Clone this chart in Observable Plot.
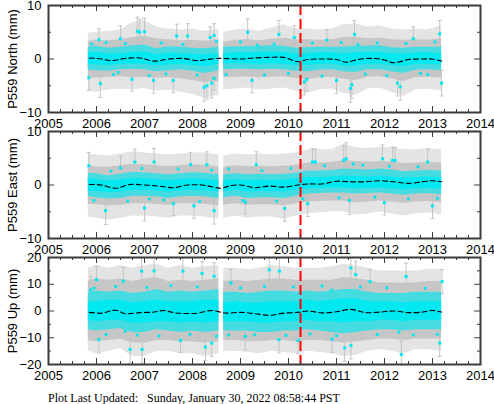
<!DOCTYPE html>
<html>
<head>
<meta charset="utf-8">
<script src="https://cdn.jsdelivr.net/npm/d3@7"></script>
<script src="https://cdn.jsdelivr.net/npm/@observablehq/plot@0.6"></script>
<style>
  body { margin: 0; background: #fff; width: 494px; height: 404px; overflow: hidden; }
  #chart { position: relative; width: 494px; height: 404px; }
  #chart svg { display: block; position: absolute; left: 0; overflow: visible; background: transparent !important; }
  #caption { position: absolute; left: 48px; top: 391px; font-family: "Liberation Serif", "Times New Roman", serif;
             font-size: 12px; line-height: 14px; color: #000; white-space: pre; }
</style>
</head>
<body>
<div id="chart"><div id="caption">Plot Last Updated:   Sunday, January 30, 2022 08:58:44 PST</div></div>
<script>
// ---------- tick labels ----------
const yearTicks = [2005, 2006, 2007, 2008, 2009, 2010, 2011, 2012, 2013, 2014];
const eventYear = 2010.25; // red dashed marker

// ---------- envelope rows: [t, outerLo, outerHi, grayLo, grayHi, cyanMidLo, cyanMidHi, cyanCoreLo, cyanCoreHi] ----------
const northBands = [
  [2005.83, -6.0, 4.8, -3.6, 3.3, -2.1, 2.2, -1.0, 1.1],
  [2006.0, -6.2, 5.0, -3.6, 3.5, -2.2, 2.4, -1.1, 1.2],
  [2006.25, -5.8, 5.2, -3.4, 3.4, -2.3, 2.0, -1.2, 0.9],
  [2006.5, -5.6, 5.4, -3.3, 3.6, -2.0, 2.2, -1.0, 1.0],
  [2006.75, -5.8, 6.8, -3.5, 4.0, -1.9, 2.5, -0.9, 1.2],
  [2007.0, -5.5, 7.2, -3.4, 4.2, -2.0, 2.6, -1.0, 1.3],
  [2007.25, -6.0, 6.0, -3.6, 3.8, -2.4, 1.9, -1.3, 0.8],
  [2007.5, -5.8, 5.6, -3.5, 3.6, -2.2, 2.3, -1.1, 1.1],
  [2007.75, -6.2, 5.4, -3.7, 3.4, -2.0, 2.2, -1.0, 1.0],
  [2008.0, -6.6, 5.6, -4.0, 3.5, -2.3, 2.0, -1.2, 0.9],
  [2008.25, -7.4, 5.2, -4.4, 3.3, -2.7, 1.9, -1.4, 0.8],
  [2008.55, -6.8, 5.6, -4.2, 3.6, -2.2, 2.2, -1.0, 1.0],
  [2008.65, -5.8, 5.0, -3.5, 3.2, -2.0, 2.2, -1.0, 1.0],
  [2008.9, -5.6, 5.4, -3.4, 3.5, -1.9, 2.3, -0.9, 1.1],
  [2009.15, -5.4, 5.6, -3.3, 3.6, -1.9, 2.3, -0.9, 1.1],
  [2009.4, -5.8, 5.2, -3.5, 3.4, -2.0, 2.4, -1.0, 1.2],
  [2009.65, -5.6, 5.8, -3.4, 3.7, -1.9, 2.5, -0.9, 1.3],
  [2009.9, -5.4, 6.4, -3.3, 3.9, -2.0, 2.4, -1.0, 1.2],
  [2010.15, -6.0, 5.6, -3.6, 3.6, -2.3, 2.0, -1.2, 0.9],
  [2010.4, -6.4, 5.6, -3.9, 3.6, -2.4, 2.1, -1.2, 1.0],
  [2010.65, -5.8, 5.4, -3.5, 3.5, -2.1, 2.2, -1.0, 1.1],
  [2010.9, -5.6, 5.6, -3.4, 3.6, -2.0, 2.2, -1.0, 1.1],
  [2011.15, -6.4, 6.4, -3.8, 4.0, -2.4, 2.2, -1.3, 1.0],
  [2011.4, -6.8, 6.6, -4.0, 4.0, -2.5, 2.4, -1.3, 1.1],
  [2011.65, -5.6, 6.0, -3.4, 3.8, -2.0, 2.4, -1.0, 1.2],
  [2011.9, -5.4, 6.2, -3.3, 3.9, -2.0, 2.5, -1.0, 1.2],
  [2012.15, -6.2, 5.6, -3.7, 3.6, -2.4, 2.1, -1.2, 1.0],
  [2012.4, -7.0, 5.4, -4.2, 3.5, -2.7, 2.0, -1.4, 0.9],
  [2012.65, -5.8, 5.6, -3.5, 3.6, -2.1, 2.2, -1.0, 1.1],
  [2012.9, -5.6, 5.4, -3.4, 3.5, -2.0, 2.2, -1.0, 1.1],
  [2013.19, -6.0, 6.2, -3.6, 3.8, -2.2, 2.2, -1.1, 1.0]
];
const eastBands = [
  [2005.83, -6.0, 5.8, -3.6, 3.6, -2.2, 2.2, -1.1, 1.1],
  [2006.0, -6.2, 5.6, -3.7, 3.4, -2.4, 2.1, -1.2, 1.0],
  [2006.25, -6.6, 5.4, -3.9, 3.3, -2.6, 1.7, -1.4, 0.7],
  [2006.5, -6.2, 5.8, -3.8, 3.6, -2.5, 2.0, -1.3, 0.9],
  [2006.75, -5.8, 6.2, -3.5, 3.9, -2.1, 2.4, -1.0, 1.2],
  [2007.0, -5.8, 6.0, -3.5, 3.8, -2.1, 2.3, -1.0, 1.1],
  [2007.25, -6.0, 5.8, -3.6, 3.6, -2.2, 2.1, -1.1, 1.0],
  [2007.5, -6.2, 5.6, -3.8, 3.4, -2.5, 1.9, -1.3, 0.8],
  [2007.75, -5.8, 5.8, -3.5, 3.6, -2.2, 2.1, -1.1, 1.0],
  [2008.0, -5.8, 6.0, -3.5, 3.8, -2.1, 2.3, -1.0, 1.1],
  [2008.25, -6.0, 6.0, -3.6, 3.7, -2.2, 2.2, -1.1, 1.0],
  [2008.55, -6.4, 5.6, -3.9, 3.4, -2.5, 1.9, -1.3, 0.8],
  [2008.65, -6.2, 5.4, -3.8, 3.3, -2.4, 1.9, -1.2, 0.8],
  [2008.9, -5.8, 5.8, -3.5, 3.6, -2.1, 2.1, -1.0, 1.0],
  [2009.15, -6.2, 5.6, -3.8, 3.4, -2.5, 1.9, -1.3, 0.8],
  [2009.4, -6.0, 5.8, -3.7, 3.5, -2.4, 2.0, -1.2, 0.9],
  [2009.65, -6.0, 5.6, -3.7, 3.4, -2.4, 1.9, -1.2, 0.8],
  [2009.9, -6.4, 5.8, -3.9, 3.5, -2.5, 2.0, -1.3, 0.9],
  [2010.15, -5.8, 6.0, -3.5, 3.7, -2.1, 2.2, -1.0, 1.1],
  [2010.4, -5.4, 6.6, -3.2, 4.1, -1.7, 2.6, -0.7, 1.4],
  [2010.65, -5.2, 6.6, -3.1, 4.1, -1.6, 2.6, -0.6, 1.4],
  [2010.9, -5.0, 6.6, -3.0, 4.2, -1.5, 2.7, -0.5, 1.5],
  [2011.15, -5.0, 7.6, -3.0, 4.6, -1.5, 3.0, -0.5, 1.7],
  [2011.4, -5.6, 7.0, -3.3, 4.4, -1.7, 2.9, -0.7, 1.6],
  [2011.65, -5.4, 6.8, -3.2, 4.3, -1.6, 2.8, -0.6, 1.5],
  [2011.9, -5.0, 7.0, -3.0, 4.4, -1.5, 3.0, -0.5, 1.7],
  [2012.15, -5.4, 7.0, -3.2, 4.3, -1.7, 2.8, -0.7, 1.5],
  [2012.4, -5.8, 6.6, -3.4, 4.0, -1.9, 2.5, -0.9, 1.3],
  [2012.65, -5.4, 6.6, -3.2, 4.1, -1.7, 2.6, -0.7, 1.4],
  [2012.9, -5.2, 6.8, -3.1, 4.2, -1.6, 2.7, -0.6, 1.5],
  [2013.19, -5.6, 6.6, -3.3, 4.1, -1.8, 2.6, -0.8, 1.4]
];
const upBands = [
  [2005.83, -15, 16, -11, 11.5, -7, 7, -3.5, 3.5],
  [2006.0, -16, 17, -11.5, 12, -7.5, 7.5, -4, 3.5],
  [2006.25, -15, 16, -11, 11.5, -7, 7, -3.5, 4],
  [2006.5, -14, 17, -10.5, 12, -6.5, 7.5, -3.5, 4],
  [2006.75, -17, 16, -12, 11, -8, 6.5, -4.5, 3],
  [2007.0, -17, 17, -12, 12, -8, 7, -4.5, 3.5],
  [2007.25, -15, 17.5, -11, 12.5, -7, 8, -4, 4],
  [2007.5, -15, 16, -11, 11, -7.5, 7, -4, 3.5],
  [2007.75, -16, 17, -11.5, 11.5, -8, 7.5, -4.5, 3.5],
  [2008.0, -16, 16, -11.5, 11, -7.5, 7, -4, 3.5],
  [2008.25, -17, 16.5, -12, 11.5, -8, 7.5, -4.5, 4],
  [2008.55, -16, 17, -11.5, 12, -7.5, 8, -4, 4],
  [2008.65, -15, 16, -11, 11, -7.5, 7, -4, 3],
  [2008.9, -15, 16, -11, 11.5, -7.5, 7, -4, 3.5],
  [2009.15, -15.5, 15.5, -11.5, 11, -7.5, 6.5, -4, 3],
  [2009.4, -16, 16, -11.5, 11.5, -8, 7, -4.5, 3],
  [2009.65, -15, 17, -11, 12, -8, 7.5, -4.5, 3.5],
  [2009.9, -15.5, 16.5, -11, 12, -7.5, 7.5, -4, 3.5],
  [2010.15, -16, 16, -11.5, 11.5, -7.5, 7, -4, 3.5],
  [2010.4, -15, 16, -11, 11.5, -7, 7.5, -3.5, 4],
  [2010.65, -15.5, 16, -11, 11.5, -7.5, 7, -4, 3.5],
  [2010.9, -16, 16.5, -11.5, 11.5, -8, 7.5, -4, 4],
  [2011.15, -17, 17.5, -12, 12.5, -8.5, 8, -4.5, 4.5],
  [2011.4, -16.5, 17, -11.5, 12, -8, 8, -4, 4.5],
  [2011.65, -15, 16, -11, 11.5, -7.5, 7, -4, 3.5],
  [2011.9, -14.5, 15, -10.5, 10.5, -7, 6.5, -3.5, 3.5],
  [2012.15, -15, 15, -10.5, 10.5, -7, 6.5, -3.5, 3.5],
  [2012.4, -16, 15, -11, 10.5, -7.5, 6.5, -4, 3],
  [2012.65, -14.5, 15, -10.5, 10.5, -7, 7, -3.5, 3.5],
  [2012.9, -14.5, 15.5, -10.5, 11, -7, 7, -3.5, 3.5],
  [2013.19, -15, 15.5, -10.5, 11, -7, 7, -3.5, 3.5]
];

// ---------- model (dashed black) : [t, mm] ----------
const northTrend = [[2005.85,0.2],[2006.1,0.0],[2006.3,-0.3],[2006.6,0.1],[2006.9,0.2],[2007.2,-0.4],[2007.5,0.0],[2007.8,0.1],[2008.1,-0.3],[2008.3,-0.1],[2008.5,0.1],[2008.65,0.1],[2009.0,0.0],[2009.3,0.2],[2009.6,0.3],[2009.9,0.3],[2010.2,-0.5],[2010.4,-0.1],[2010.7,0.0],[2011.0,-0.1],[2011.2,-0.6],[2011.5,0.0],[2011.8,0.1],[2012.0,-0.2],[2012.2,-0.7],[2012.5,-0.1],[2012.8,0.0],[2013.0,0.0],[2013.19,-0.4]];
const eastTrend = [[2005.85,0.1],[2006.1,0.0],[2006.4,-0.6],[2006.7,0.1],[2007.0,0.0],[2007.3,-0.2],[2007.6,-0.5],[2007.9,0.0],[2008.2,0.0],[2008.45,-0.4],[2008.6,-0.6],[2008.75,-0.2],[2009.0,0.0],[2009.3,-0.5],[2009.6,-0.2],[2009.9,-0.4],[2010.2,0.0],[2010.4,0.2],[2010.7,0.2],[2011.0,0.7],[2011.3,0.6],[2011.6,0.6],[2011.9,0.8],[2012.2,0.6],[2012.5,0.3],[2012.8,0.6],[2013.0,0.8],[2013.19,0.6]];
const upTrend = [[2005.85,-0.5],[2006.1,-0.8],[2006.4,0.3],[2006.6,-1.0],[2006.9,-0.6],[2007.2,-0.4],[2007.4,0.2],[2007.6,-0.6],[2007.8,-0.9],[2008.1,-0.8],[2008.4,0.2],[2008.6,-0.5],[2008.7,-0.8],[2009.0,-0.5],[2009.3,-1.0],[2009.6,-1.6],[2009.9,-0.8],[2010.2,-0.5],[2010.4,0.0],[2010.7,-0.7],[2011.0,-0.3],[2011.3,0.6],[2011.6,-0.6],[2011.9,-0.4],[2012.2,0.0],[2012.5,-0.6],[2012.8,-0.4],[2013.0,0.2],[2013.19,-0.4]];

// ---------- isolated daily solutions visible outside the dense band: [t, mm, sigma] ----------
const northPoints = [[2006.85,5.2,2.6],[2006.9,5.0,2.4],[2007.0,5.1,2.5],[2007.67,4.3,2.2],[2007.9,4.3,2.3],[2008.37,4.0,2.0],[2008.45,4.4,2.2],[2006.05,3.6,2.0],[2006.5,3.8,2.4],
  [2005.84,-3.5,2.4],[2006.08,-4.6,2.6],[2006.74,-3.8,2.2],[2007.19,-4.0,2.4],[2007.6,-4.0,2.3],[2008.24,-5.3,2.6],[2008.3,-5.0,2.5],[2008.4,-4.5,2.8],[2008.45,-3.6,2.2],
  [2009.15,5.0,2.5],[2009.8,4.6,2.6],[2010.12,4.0,2.2],[2010.33,-4.3,2.4],[2010.38,-3.8,2.2],[2011.375,4.6,2.6],[2011.0,-4.0,2.4],[2011.29,-5.5,2.6],[2011.32,-4.8,2.5],[2012.27,-4.5,2.4],[2012.33,-5.2,2.5],[2013.15,4.7,2.5],[2013.19,-4.5,2.4],[2009.24,-4.0,2.3],[2012.6,3.8,2.2],[2010.8,3.5,2.0]];
const eastPoints = [[2005.84,3.6,2.5],[2006.8,4.3,2.4],[2007.2,4.3,2.5],[2007.96,3.8,2.3],[2008.3,3.8,2.4],[2006.19,-4.8,2.6],[2007.0,-4.3,2.4],[2008.03,-3.9,2.3],[2008.45,-4.8,2.5],[2006.5,3.2,2.2],[2007.6,-3.5,2.2],
  [2009.33,3.8,2.4],[2010.5,4.3,2.5],[2010.56,4.3,2.4],[2011.15,4.6,2.8],[2011.2,4.9,3.0],[2011.96,4.9,2.6],[2012.17,4.6,2.5],[2012.22,4.6,2.4],[2012.9,4.3,2.4],[2009.92,-4.4,2.4],[2011.27,-2.9,2.6],[2012.0,-3.3,2.3],[2013.0,-3.9,2.4],[2009.1,-3.2,2.2],[2010.4,-3.5,2.4]];
const upPoints = [[2005.88,7.9,5],[2006.0,11.7,5],[2006.56,11.2,5],[2006.94,14.9,5],[2007.2,15.0,5],[2007.8,14.9,5],[2008.2,14.0,4.5],[2008.45,13.0,5],[2006.05,-10.7,5],[2006.7,-14.4,5],[2006.95,-14.4,5],[2007.75,-11.0,4.5],[2008.27,-13.5,5],[2008.4,-12.0,5],
  [2009.6,15.4,5],[2009.81,14.9,5],[2011.3,16.1,5],[2011.4,13.6,5],[2011.7,11.0,4.5],[2012.45,12.9,5],[2013.2,11.0,4.5],[2011.17,-13.8,5],[2011.3,-12.9,5],[2012.35,-16.3,5],[2009.8,-10.7,5],[2010.2,-11.0,5],[2010.91,-10.5,5],[2013.15,-12.0,5],[2008.8,10.5,5],[2009.1,-9.5,5]];

// ---------- scattered daily solutions inside the gray band: [t, mm] ----------
const northScatter = [[2005.9,2.8],[2006.2,3.1],[2006.35,-2.9],[2006.6,2.9],[2007.1,-3.1],[2007.35,3.0],[2007.45,-2.8],[2007.8,2.7],[2008.1,-3.0],[2008.5,3.3],[2008.7,-2.9],[2009.0,3.2],[2009.5,-3.0],[2009.7,2.8],[2010.0,-2.7],[2010.5,3.0],[2010.7,-3.2],[2011.1,3.1],[2011.6,-2.8],[2011.85,3.0],[2012.05,-3.1],[2012.45,2.9],[2012.75,-2.7],[2013.05,3.2],[2006.45,-2.5],[2009.35,2.6],[2011.45,2.7],[2012.9,-2.9]];
const eastScatter = [[2005.95,-2.9],[2006.3,2.6],[2006.65,-3.0],[2006.95,3.1],[2007.4,-2.8],[2007.7,3.0],[2008.15,-3.1],[2008.4,2.8],[2008.75,3.0],[2009.05,-2.9],[2009.45,2.7],[2009.75,-3.0],[2010.05,3.1],[2010.3,-2.6],[2010.75,3.6],[2011.05,-2.4],[2011.55,3.7],[2011.8,-2.3],[2012.1,3.5],[2012.5,-2.6],[2012.7,3.4],[2013.1,-2.5],[2007.1,-2.6],[2011.35,3.9]];
const upScatter = [[2005.95,8.5],[2006.2,-8.8],[2006.4,9.2],[2006.85,-9.0],[2007.05,8.8],[2007.3,-9.3],[2007.55,9.5],[2007.95,-8.7],[2008.1,9.0],[2008.5,-9.4],[2008.75,-9.0],[2009.0,8.6],[2009.3,-8.9],[2009.5,9.2],[2009.95,-9.1],[2010.1,9.0],[2010.45,-8.6],[2010.7,9.3],[2011.0,-9.2],[2011.5,9.0],[2011.85,-8.8],[2012.05,8.7],[2012.6,-8.9],[2012.85,8.5],[2013.1,-8.7],[2006.6,-7.5],[2010.9,7.8],[2012.3,-7.9]];

// ---------- panel definitions (frameTop = pixel row of the panel's top border) ----------
const panels = [
  {label: "P559 North (mm)", domain: [-10, 10], yMajor: [-10, 0, 10], yMinor: [-5, 5], bands: northBands, trend: northTrend, points: northPoints, scatter: northScatter, frameTop: 5},
  {label: "P559 East (mm)",  domain: [-10, 10], yMajor: [-10, 0, 10], yMinor: [-5, 5], bands: eastBands, trend: eastTrend, points: eastPoints, scatter: eastScatter, frameTop: 131},
  {label: "P559 Up (mm)",    domain: [-20, 20], yMajor: [-20, -10, 0, 10, 20], yMinor: [-15, -5, 5, 15], bands: upBands, trend: upTrend, points: upPoints, scatter: upScatter, frameTop: 257}
];

const quarterTicks = d3.range(2005, 2014.001, 0.25).filter(d => Math.abs(d - Math.round(d)) > 1e-6);
const FRAME_H = 107, FRAME_W = 432, MT = 10, MB = 20;
const frameColor = "#3a3a3a";
const cyan = "#00e8f0";
const seg = r => (r[0] < 2008.6 ? "A" : "B");
const capSymbol = {draw(ctx, size) { const r = Math.sqrt(size / Math.PI); ctx.moveTo(-r, 0); ctx.lineTo(r, 0); }};
const boxSymbol = {draw(ctx, size) { const r = Math.sqrt(size) / 2; ctx.rect(-r, -r, 2 * r, 2 * r); }};

const chart = document.getElementById("chart");
for (const p of panels) {
  const svg = Plot.plot({
    width: 494,
    height: MT + FRAME_H + MB,
    marginLeft: 48, marginRight: 14, marginTop: MT, marginBottom: MB,
    style: {fontFamily: "'Liberation Sans', Arial, sans-serif", fontSize: "13px", color: "#000", background: "transparent", overflow: "visible"},
    x: {domain: [2005, 2014], ticks: yearTicks, tickSize: 0, tickPadding: 6, tickFormat: d => String(d), label: null},
    y: {domain: p.domain, ticks: p.yMajor, tickSize: 0, tickPadding: 7, label: null},
    marks: [
      Plot.areaY(p.bands, {x: r => r[0], y1: r => r[1], y2: r => r[2], z: seg, fill: "#e4e4e4", clip: true}),
      Plot.areaY(p.bands, {x: r => r[0], y1: r => r[3], y2: r => r[4], z: seg, fill: "#c6c6c6", clip: true}),
      Plot.ruleX(p.points, {x: d => d[0], y1: d => d[1] - d[2], y2: d => d[1] + d[2], stroke: "#c4c4c4", strokeWidth: 1, clip: true}),
      Plot.dot(p.points, {x: d => d[0], y: d => d[1] - d[2], symbol: capSymbol, r: 2, stroke: "#c4c4c4", strokeWidth: 1, clip: true}),
      Plot.dot(p.points, {x: d => d[0], y: d => d[1] + d[2], symbol: capSymbol, r: 2, stroke: "#c4c4c4", strokeWidth: 1, clip: true}),
      Plot.areaY(p.bands, {x: r => r[0], y1: r => r[5], y2: r => r[6], z: seg, fill: cyan, fillOpacity: 0.65, clip: true}),
      Plot.areaY(p.bands, {x: r => r[0], y1: r => r[7], y2: r => r[8], z: seg, fill: cyan, clip: true}),
      Plot.dot(p.scatter, {x: d => d[0], y: d => d[1], symbol: boxSymbol, r: 1.6, fill: cyan, stroke: "none"}),
      Plot.dot(p.points, {x: d => d[0], y: d => d[1], symbol: boxSymbol, r: 1.7, fill: cyan, stroke: "none"}),
      Plot.line(p.trend, {x: d => d[0], y: d => d[1], stroke: "#000", strokeWidth: 1.1, strokeDasharray: "5,3", curve: "catmull-rom"}),
      Plot.ruleX([eventYear], {stroke: "#ff0000", strokeWidth: 2, strokeDasharray: "10,4"}),
      // inward ticks on all four sides
      Plot.ruleX(yearTicks, {stroke: frameColor, insetTop: FRAME_H - 6}),
      Plot.ruleX(yearTicks, {stroke: frameColor, insetBottom: FRAME_H - 6}),
      Plot.ruleX(quarterTicks, {stroke: frameColor, insetTop: FRAME_H - 3}),
      Plot.ruleX(quarterTicks, {stroke: frameColor, insetBottom: FRAME_H - 3}),
      Plot.ruleY(p.yMajor, {stroke: frameColor, insetRight: FRAME_W - 6}),
      Plot.ruleY(p.yMajor, {stroke: frameColor, insetLeft: FRAME_W - 6}),
      Plot.ruleY(p.yMinor, {stroke: frameColor, insetRight: FRAME_W - 3}),
      Plot.ruleY(p.yMinor, {stroke: frameColor, insetLeft: FRAME_W - 3}),
      Plot.frame({stroke: frameColor, strokeWidth: 2}),
      Plot.text([p.label], {text: d => d, frameAnchor: "left", textAnchor: "middle", dx: -36, rotate: -90, fontSize: 13, fill: "#000"})
    ]
  });
  svg.style.top = (p.frameTop - MT) + "px";
  chart.appendChild(svg);
}
</script>
</body>
</html>
